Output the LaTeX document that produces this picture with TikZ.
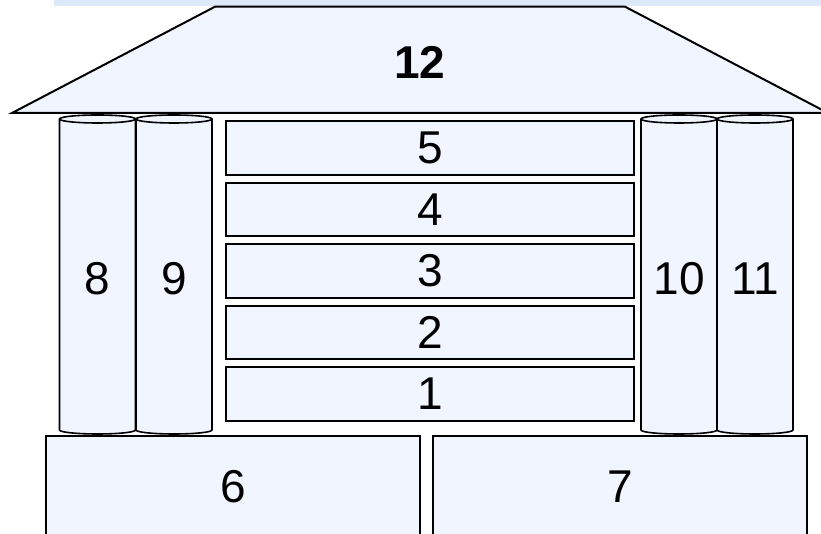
\documentclass[tikz,border=0pt]{standalone}
\usepackage{fontspec}
\setmainfont{Liberation Sans}
\usepackage{tikz}
\usetikzlibrary{positioning}
\definecolor{hsfill}{RGB}{240,245,255}
\definecolor{hsband}{RGB}{221,232,250}
\definecolor{hsdark}{RGB}{0,0,0}
\tikzset{
  layer/.style={rectangle, draw=hsdark, fill=hsfill, inner sep=0pt, outer sep=0pt,
    minimum width=408pt, minimum height=53.5pt, line width=2pt,
    font=\fontsize{46}{52}\selectfont},
  footing/.style={rectangle, draw=hsdark, fill=hsfill, inner sep=0pt, outer sep=0pt,
    minimum width=374pt, minimum height=102pt, line width=2pt,
    font=\fontsize{46}{52}\selectfont},
  pillar/.style={draw=hsdark, fill=hsfill, line width=1.6pt},
  roofshape/.style={draw=hsdark, fill=hsfill, line width=2pt, line join=miter},
  hslabel/.style={inner sep=0pt, font=\fontsize{46}{52}\selectfont}
}
\begin{document}
\begin{tikzpicture}[x=1pt, y=1pt]
  \useasboundingbox (0,0) rectangle (821,534);
  \clip (0,0) rectangle (821,534);
  \fill[hsband] (54,527.5) rectangle (821,534);
  % roof
  \filldraw[roofshape] (12,421) -- (215,527.3) -- (625,527.3) -- (828,421) -- cycle;
  \node[hslabel, font=\fontsize{46}{52}\selectfont\bfseries] (roof) at (420,472) {12};
  % pillars
  \foreach \cx/\lab in {97.5/8, 174/9, 679/10, 755/11}{
    \filldraw[pillar] (\cx-38,415) -- (\cx-38,104)
      arc[start angle=180, end angle=360, x radius=38, y radius=4]
      -- (\cx+38,415)
      arc[start angle=0, end angle=180, x radius=38, y radius=4] -- cycle;
    \draw[pillar, fill=none] (\cx-38,415)
      arc[start angle=180, end angle=360, x radius=38, y radius=4];
    \node[hslabel] (p\lab) at (\cx,255) {\lab};
  }
  % layers
  \node[layer] (l1) at (430,140) {1};
  \node[layer, above=7.95pt of l1] (l2) {2};
  \node[layer, above=7.95pt of l2] (l3) {3};
  \node[layer, above=7.95pt of l3] (l4) {4};
  \node[layer, above=7.95pt of l4] (l5) {5};
  % footings
  \node[footing] (f6) at (233,47) {6};
  \node[footing, right=13pt of f6] (f7) {7};
\end{tikzpicture}
\end{document}
